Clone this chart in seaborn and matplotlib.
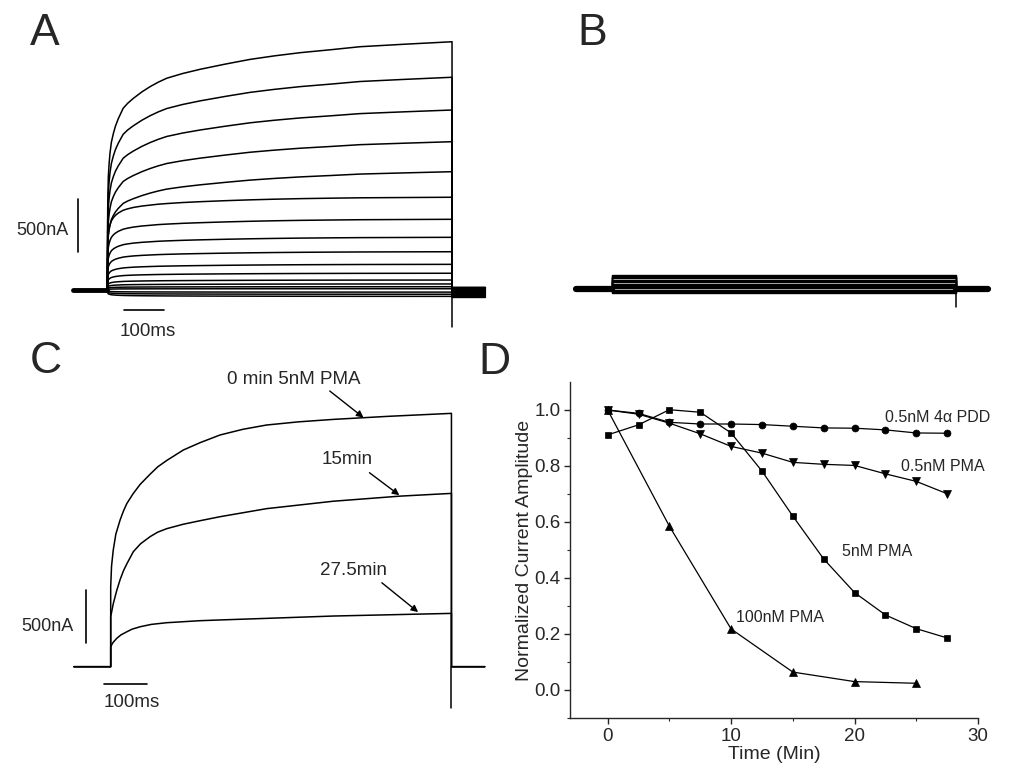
import matplotlib
matplotlib.use("Agg")
import matplotlib.pyplot as plt
import seaborn as sns

# ---- A: end-of-pulse current of each trace (nA) and two activation time courses
a_end_na = [2342, 2007, 1698, 1399, 1116, 875, 667, 497, 361, 242, 158, 94, 57, 31, 12, -20, -40, -60]
a_profile = ['slow'] * 5 + ['fast'] * 13
a_tail_na = [-70, -62, -55, -48, -42, -36, -30, -24, -18, -12, -6, 0, 5, 10, 14, 18, 22, 25]
a_t_ms = [0, 1, 2.5, 4.5, 6.6, 10, 15, 20, 27, 39, 50, 64, 85, 105, 125, 146, 185, 228, 290,
          351, 410, 474, 550, 621, 730, 847]
a_frac_slow = [0, 0.33, 0.456, 0.51, 0.551, 0.595, 0.631, 0.66, 0.69, 0.732, 0.752, 0.772, 0.798,
               0.819, 0.837, 0.853, 0.872, 0.889, 0.91, 0.929, 0.943, 0.956, 0.968, 0.980, 0.99, 1.0]
a_frac_fast = [0, 0.45, 0.6, 0.66, 0.7, 0.745, 0.78, 0.805, 0.83, 0.86, 0.875, 0.89, 0.905,
               0.915, 0.925, 0.932, 0.943, 0.952, 0.963, 0.972, 0.979, 0.985, 0.99, 0.994, 0.997, 1.0]
a_spike_na = -346

# ---- B: flat currents during the pulse (nA)
b_level_na = [-40, -28, -16, -5, 5, 15, 25, 38, 50, 62, 75, 88, 100, 112, 124, 136]
b_spike_na = -170

# ---- C: currents after 0, 15 and 27.5 min in 5nM PMA
c_labels = ['0 min 5nM PMA', '15min', '27.5min']
c_t0_ms = [0, 2, 6, 12, 22, 30, 38, 53, 69, 92, 110, 131, 170, 209, 256, 310, 365, 440, 521, 650, 798]
c_i0_na = [755, 950, 1101, 1250, 1384, 1470, 1541, 1635, 1720, 1815, 1885, 1945, 2044, 2113, 2186,
           2240, 2280, 2310, 2333, 2362, 2390]
c_t15_ms = [0, 6, 14, 22, 30, 38, 53, 70, 92, 110, 131, 170, 209, 256, 365, 521, 677, 798]
c_i15_na = [472, 594, 717, 821, 906, 972, 1085, 1160, 1226, 1269, 1302, 1344, 1377, 1415, 1491,
            1561, 1609, 1635]
c_t27_ms = [0, 5, 14, 24, 38, 50, 69, 95, 131, 209, 256, 365, 521, 798]
c_i27_na = [189, 226, 267, 300, 330, 354, 377, 399, 415, 434, 441, 456, 478, 503]
c_spike_na = -390

# ---- D: normalized current amplitude vs time
d_time = [0, 2.5, 5, 7.5, 10, 12.5, 15, 17.5, 20, 22.5, 25, 27.5]
d_pdd = [1.0, 0.988, 0.956, 0.950, 0.950, 0.948, 0.942, 0.936, 0.935, 0.929, 0.918, 0.917]
d_pma05 = [1.0, 0.985, 0.953, 0.915, 0.870, 0.846, 0.813, 0.806, 0.802, 0.772, 0.745, 0.701]
d_pma5 = [0.911, 0.947, 1.001, 0.992, 0.918, 0.782, 0.621, 0.468, 0.348, 0.268, 0.219, 0.186]
d_time100 = [0, 5, 10, 15, 20, 25]
d_pma100 = [1.0, 0.585, 0.218, 0.064, 0.030, 0.024]

sns.set_style("ticks")
plt.rcParams['font.family'] = ['Liberation Sans', 'DejaVu Sans']

W, H = 1011, 767
fig = plt.figure(figsize=(W / 100, H / 100), dpi=100)


def trace_axes(x0, y0, x1, y1, t0_px, ms_px, base_px, na_px):
    # axes placed in a pixel box, limits chosen so that data units are ms / nA
    ax = fig.add_axes([x0 / W, 1 - y1 / H, (x1 - x0) / W, (y1 - y0) / H])
    ax.set_xlim((x0 - t0_px) / ms_px, (x1 - t0_px) / ms_px)
    ax.set_ylim((base_px - y1) / na_px, (base_px - y0) / na_px)
    ax.axis('off')
    return ax


def draw_trace(ax, t, i, pre, post, tail, lw=1.1):
    end = t[-1]
    x = [pre, 0] + list(t) + [end, end, post]
    y = [0, 0] + list(i) + [tail, tail, tail]
    sns.lineplot(x=x, y=y, sort=False, estimator=None, color='k', lw=lw, ax=ax)


# ---------------- A
axA = trace_axes(0, 0, 505, 350, 107.3, 0.407, 290, 0.106)
profiles = {'slow': a_frac_slow, 'fast': a_frac_fast}
for amp, prof, tail in zip(a_end_na, a_profile, a_tail_na):
    draw_trace(axA, a_t_ms, [amp * f for f in profiles[prof]], -84, 929, tail)
axA.plot([a_t_ms[-1], a_t_ms[-1]], [0, a_spike_na], color='k', lw=1.1)
axA.plot([-84, 0], [0, 0], color='k', lw=3.5)
axA.plot([-72, -72], [358, 858], color='k', lw=1.2)
axA.text(-96, 566, '500nA', ha='right', va='center', fontsize=13)
axA.plot([40, 140], [-189, -189], color='k', lw=1.2)
axA.text(100, -387, '100ms', ha='center', va='center', fontsize=13.5)

# ---------------- B
axB = trace_axes(505, 0, 1011, 350, 612, 0.407, 289, 0.106)
for lvl in b_level_na:
    draw_trace(axB, [0, 845], [lvl, lvl], -88, 924, 0, lw=1.0)
axB.plot([-88, 0], [0, 0], color='k', lw=4.5)
axB.plot([845, 924], [0, 0], color='k', lw=4.5)
axB.plot([845, 845], [0, b_spike_na], color='k', lw=1.1)

# ---------------- C
axC = trace_axes(0, 350, 505, 767, 110.7, 0.427, 666.7, 0.106)
for t, i in [(c_t0_ms, c_i0_na), (c_t15_ms, c_i15_na), (c_t27_ms, c_i27_na)]:
    draw_trace(axC, t, i, -86, 876, 0, lw=1.1)
axC.plot([c_t0_ms[-1], c_t0_ms[-1]], [0, c_spike_na], color='k', lw=1.1)
axC.plot([-58, -58], [226, 726], color='k', lw=1.2)
axC.text(-86, 377, '500nA', ha='right', va='center', fontsize=13)
axC.plot([-15, 85], [-166, -166], color='k', lw=1.2)
axC.text(49, -340, '100ms', ha='center', va='center', fontsize=13.5)

arrow = dict(arrowstyle='-|>', color='k', lw=1.0, mutation_scale=10, shrinkA=0, shrinkB=0)
c_text_pos = [(429, 2705), (553, 1955), (569, 903)]
c_arrow_from = [(513, 2601), (606, 1830), (635, 792)]
c_arrow_to = [(592, 2350), (676, 1618), (720, 515)]
for lab, tp, a0, a1 in zip(c_labels, c_text_pos, c_arrow_from, c_arrow_to):
    axC.text(*tp, lab, ha='center', va='center', fontsize=13.5)
    axC.annotate('', xy=a1, xytext=a0, arrowprops=arrow)

# ---------------- D
axD = fig.add_axes([570 / W, 1 - 718 / H, 408 / W, 336 / H])
mk = dict(color='k', lw=0.9, markeredgecolor='k', markeredgewidth=0.5, ax=axD)
sns.lineplot(x=d_time, y=d_pdd, marker='o', markersize=5, **mk)
sns.lineplot(x=d_time, y=d_pma05, marker='v', markersize=6, **mk)
sns.lineplot(x=d_time, y=d_pma5, marker='s', markersize=5, **mk)
sns.lineplot(x=d_time100, y=d_pma100, marker='^', markersize=6, **mk)

axD.set_xlim(-3.05, 30)
axD.set_ylim(-0.1, 1.1)
axD.set_xticks([0, 10, 20, 30])
axD.set_xticks([5, 15, 25], minor=True)
axD.set_yticks([0.0, 0.2, 0.4, 0.6, 0.8, 1.0])
axD.set_yticks([-0.1, 0.1, 0.3, 0.5, 0.7, 0.9], minor=True)
axD.set_yticklabels(['0.0', '0.2', '0.4', '0.6', '0.8', '1.0'])
axD.tick_params(which='major', direction='out', length=4, width=1, labelsize=13.5, pad=3)
axD.tick_params(which='minor', direction='out', length=2.5, width=0.8)
sns.despine(ax=axD)
for s in axD.spines.values():
    s.set_linewidth(1.0)
axD.set_xlabel('Time (Min)', fontsize=14, labelpad=1)
axD.set_ylabel('Normalized Current Amplitude', fontsize=14, labelpad=1)

axD.text(26.7, 0.973, '0.5nM 4\u03b1 PDD', ha='center', va='center', fontsize=11.5)
axD.text(27.15, 0.799, '0.5nM PMA', ha='center', va='center', fontsize=11.5)
axD.text(21.8, 0.493, '5nM PMA', ha='center', va='center', fontsize=11.5)
axD.text(13.95, 0.258, '100nM PMA', ha='center', va='center', fontsize=11.5)

# panel letters
for letter, x, yb in [('A', 30, 45), ('B', 577, 45), ('C', 30, 373), ('D', 478, 374)]:
    fig.text(x / W, 1 - yb / H, letter, fontsize=32, ha='left', va='baseline')

fig.savefig('out.png', dpi=100)
